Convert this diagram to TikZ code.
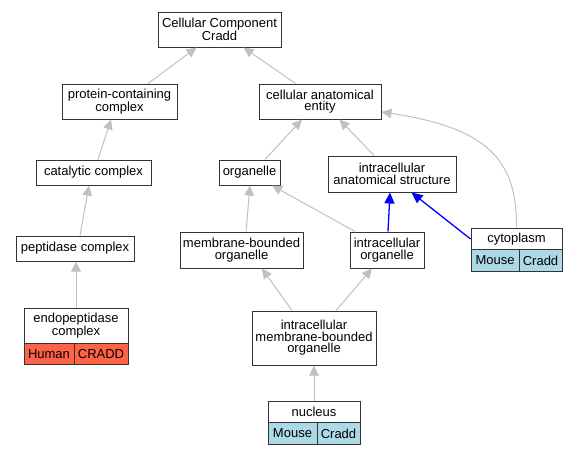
\documentclass[tikz,border=0pt]{standalone}
\usepackage{fontspec}
\setmainfont{Liberation Sans}
\usetikzlibrary{arrows.meta}
\newcommand{\gofont}{\fontsize{13}{11.6}\selectfont}
\definecolor{tomatofill}{HTML}{FF6347}
\definecolor{mousefill}{HTML}{ADD8E6}
\definecolor{edgegray}{HTML}{C0C0C0}
\tikzset{
    term/.style={draw=black!80, line width=1pt, fill=white, align=center, inner sep=0pt, font=\gofont},
    tag/.style={term, minimum height=21.5pt},
    isa/.style={edgegray, line width=1pt, -{Triangle[length=10pt, width=9.5pt]}},
    blueisa/.style={blue, line width=1.3pt, -{Triangle[length=11pt, width=10pt]}}
}
\begin{document}
\begin{tikzpicture}[x=1pt, y=-1pt]
    \useasboundingbox (0, 0) rectangle (577, 456);
    % terms
    \node[term, minimum width=123pt, minimum height=35pt] (root) at (219.5, 29.5) {Cellular Component\\Cradd};
    \node[term, minimum width=115pt, minimum height=35pt] (pcc) at (119.5, 101.5) {protein-containing\\complex};
    \node[term, minimum width=122pt, minimum height=35pt] (cae) at (320, 101.5) {cellular anatomical\\entity};
    \node[term, minimum width=115pt, minimum height=25pt] (cat) at (93.5, 172.5) {catalytic complex};
    \node[term, minimum width=61pt, minimum height=25pt] (org) at (249.5, 172.5) {organelle};
    \node[term, minimum width=128pt, minimum height=36pt] (ias) at (392, 174) {intracellular\\anatomical structure};
    \node[term, minimum width=118pt, minimum height=25pt] (pep) at (75, 248.5) {peptidase complex};
    \node[term, minimum width=123pt, minimum height=36pt] (mbo) at (241.5, 250) {membrane-bounded\\organelle};
    \node[term, minimum width=74pt, minimum height=36pt] (io) at (387, 250) {intracellular\\organelle};
    \node[term, minimum width=124pt, minimum height=54pt] (imbo) at (314, 338) {intracellular\\membrane-bounded\\organelle};
    % annotated terms
    \node[term, minimum width=91pt, minimum height=22pt] (cyto) at (516.5, 239) {cytoplasm};
    \node[tag, fill=mousefill, minimum width=48pt] (cytoA) at (495, 260.5) {Mouse};
    \node[tag, fill=mousefill, minimum width=43pt] (cytoB) at (540.5, 260.5) {Cradd};
    \node[term, minimum width=104pt, minimum height=35pt] (endo) at (76, 325.5) {endopeptidase\\complex};
    \node[tag, fill=tomatofill, minimum width=50pt] (endoA) at (49, 354) {Human};
    \node[tag, fill=tomatofill, minimum width=54pt] (endoB) at (101, 354) {CRADD};
    \node[term, minimum width=92pt, minimum height=21.5pt] (nuc) at (314, 412) {nucleus};
    \node[tag, fill=mousefill, minimum width=49pt] (nucA) at (292.5, 433.5) {Mouse};
    \node[tag, fill=mousefill, minimum width=43pt] (nucB) at (338.5, 433.5) {Cradd};
    % is_a edges
    \draw[isa] ([xshift=28.5pt]pcc.north) -- ([xshift=-23pt]root.south);
    \draw[isa] ([xshift=-24.5pt]cae.north) -- ([xshift=24pt]root.south);
    \draw[isa] ([xshift=4.5pt]cat.north) -- ([xshift=-8.5pt]pcc.south);
    \draw[isa] ([xshift=15.5pt]org.north) -- ([xshift=-18pt]cae.south);
    \draw[isa] ([xshift=-18pt]ias.north) -- ([xshift=19.5pt]cae.south);
    \draw[isa] (cyto.north) .. controls (517, 162) and (490, 128) .. ([yshift=-10.5pt]cae.east);
    \draw[isa] ([xshift=5pt]pep.north) -- ([xshift=-4.5pt]cat.south);
    \draw[isa] ([xshift=4.5pt]mbo.north) -- ([xshift=0.5pt]org.south);
    \draw[isa] ([xshift=-32pt]io.north) -- ([xshift=22.5pt]org.south);
    \draw[isa] (endo.north) -- ([xshift=1pt]pep.south);
    \draw[isa] ([xshift=-22pt]imbo.north) -- ([xshift=20.5pt]mbo.south);
    \draw[isa] ([xshift=22pt]imbo.north) -- ([xshift=-15pt]io.south);
    \draw[isa] (nuc.north) -- (imbo.south);
    % part_of edges
    \draw[blueisa] ([xshift=1pt]io.north) -- ([xshift=-2pt]ias.south);
    \draw[blueisa] (cyto.west) -- ([xshift=19.5pt]ias.south);
\end{tikzpicture}
\end{document}
